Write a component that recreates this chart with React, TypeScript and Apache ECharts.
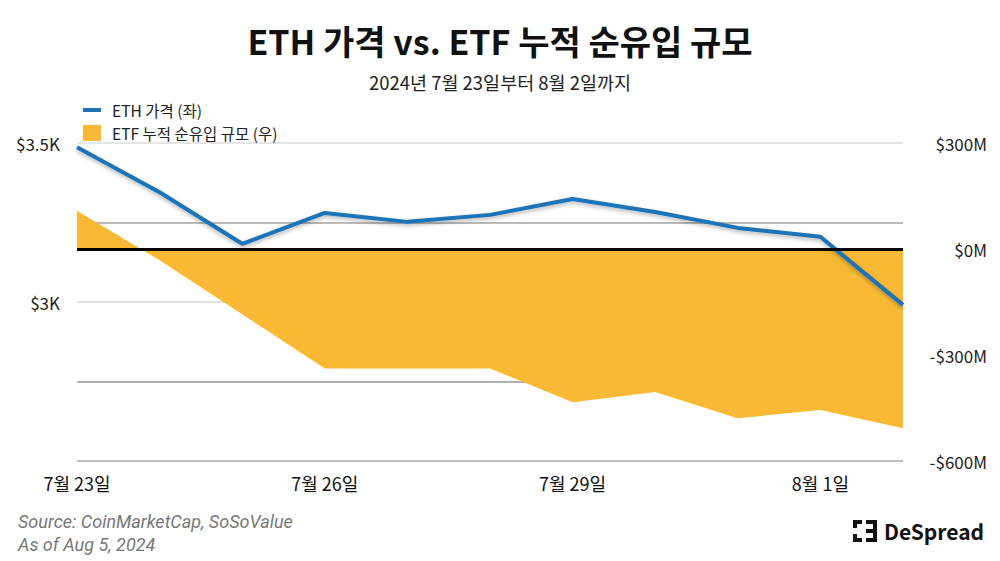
import React, { useEffect, useRef } from "react";
import * as echarts from "echarts";

const categories = [
  "7월 23일", "7월 24일", "7월 25일", "7월 26일", "7월 27일", "7월 28일",
  "7월 29일", "7월 30일", "7월 31일", "8월 1일", "8월 2일",
];
const ethPrice = [3487, 3345, 3183, 3280, 3252, 3274, 3324, 3283, 3233, 3205, 2991];
const etfCumFlow = [108, -32, -185, -338, -338, -338, -434, -405, -479, -456, -507];
const leftTicks: Record<number, string> = { 3000: "$3K", 3500: "$3.5K" };

const FONT = "'Noto Sans CJK KR', 'Noto Sans', sans-serif";
const BLUE = "#1b73b7";
const ORANGE = "#F9B934";

export default function App() {
  const ref = useRef<HTMLDivElement>(null);
  useEffect(() => {
    if (!ref.current) return;
    const chart = echarts.init(ref.current, null, { renderer: "svg" });
    chart.setOption({
      animation: false,
      backgroundColor: "#ffffff",
      textStyle: { fontFamily: FONT },
      title: [
        {
          text: "ETH 가격 vs. ETF 누적 순유입 규모",
          left: "center",
          top: 18,
          textStyle: { fontSize: 34, fontWeight: "bold", color: "#111", fontFamily: FONT },
        },
        {
          text: "2024년 7월 23일부터 8월 2일까지",
          left: "center",
          top: 68,
          textStyle: { fontSize: 18.5, fontWeight: "normal", color: "#222", fontFamily: FONT },
        },
      ],
      legend: {
        orient: "vertical",
        left: 78,
        top: 97,
        itemGap: 7,
        itemWidth: 18,
        itemHeight: 16,
        textStyle: { fontSize: 15.5, color: "#222", fontFamily: FONT, padding: [0, 0, 0, 6], lineHeight: 16 },
        data: [
          { name: "ETH 가격 (좌)", icon: "path://M0,0H18V4H0Z", itemStyle: { color: BLUE } },
          { name: "ETF 누적 순유입 규모 (우)", icon: "rect", itemStyle: { color: ORANGE } },
        ],
      },
      grid: { left: 77, right: 97, top: 143, bottom: 100, containLabel: false },
      xAxis: {
        type: "category",
        data: categories,
        boundaryGap: false,
        axisLine: { show: false },
        axisTick: { show: false },
        axisLabel: { interval: 2, fontSize: 18, color: "#111", margin: 13, fontFamily: FONT },
      },
      yAxis: [
        {
          type: "value",
          min: 2500,
          max: 3500,
          interval: 250,
          position: "left",
          axisLine: { show: false },
          axisTick: { show: false },
          axisLabel: {
            fontSize: 17,
            color: "#222",
            margin: 17,
            fontFamily: FONT,
            formatter: (v: number) => leftTicks[v] ?? "",
          },
          splitLine: {
            show: true,
            lineStyle: { color: ["#a8a8a8", "#999999", "#d6d6d6", "#a3a3a3", "#dddddd"], width: 1.5 },
          },
        },
        {
          type: "value",
          min: -600,
          max: 300,
          interval: 300,
          position: "right",
          axisLine: { show: false },
          axisTick: { show: false },
          splitLine: { show: false },
          axisLabel: {
            fontSize: 17,
            color: "#222",
            margin: 84,
            align: "right",
            fontFamily: FONT,
            formatter: (v: number) => (v < 0 ? "-$" + Math.abs(v) + "M" : "$" + v + "M"),
          },
        },
      ],
      series: [
        {
          name: "ETF 누적 순유입 규모 (우)",
          type: "line",
          yAxisIndex: 1,
          data: etfCumFlow,
          symbol: "none",
          color: ORANGE,
          lineStyle: { width: 0, color: ORANGE },
          areaStyle: { color: ORANGE, opacity: 1, origin: 0 },
          z: 2,
          markLine: {
            silent: true,
            symbol: "none",
            label: { show: false },
            lineStyle: { color: "#000", width: 3, type: "solid" },
            data: [{ yAxis: 0 }],
          },
        },
        {
          name: "ETH 가격 (좌)",
          type: "line",
          yAxisIndex: 0,
          data: ethPrice,
          symbol: "none",
          color: BLUE,
          lineStyle: {
            color: BLUE,
            width: 4,
            shadowColor: "rgba(0,0,0,0.3)",
            shadowBlur: 4,
            shadowOffsetY: 2,
          },
          z: 4,
        },
      ],
      graphic: [
        {
          type: "text",
          left: 18,
          top: 512,
          style: {
            text: "Source: CoinMarketCap, SoSoValue",
            fontSize: 18,
            fontStyle: "italic",
            fill: "#777",
            fontFamily: "Roboto, 'Noto Sans', sans-serif",
          },
        },
        {
          type: "text",
          left: 18,
          top: 535,
          style: {
            text: "As of Aug 5, 2024",
            fontSize: 18,
            fontStyle: "italic",
            fill: "#777",
            fontFamily: "Roboto, 'Noto Sans', sans-serif",
          },
        },
        {
          type: "group",
          left: 853,
          top: 520,
          children: [
            { type: "rect", shape: { x: 0, y: 0, width: 9, height: 4 }, style: { fill: "#111" } },
            { type: "rect", shape: { x: 0, y: 0, width: 4, height: 8 }, style: { fill: "#111" } },
            { type: "rect", shape: { x: 0, y: 18, width: 9, height: 4 }, style: { fill: "#111" } },
            { type: "rect", shape: { x: 0, y: 14, width: 4, height: 8 }, style: { fill: "#111" } },
            { type: "rect", shape: { x: 20, y: 0, width: 4, height: 22 }, style: { fill: "#111" } },
            { type: "rect", shape: { x: 13, y: 0, width: 11, height: 4 }, style: { fill: "#111" } },
            { type: "rect", shape: { x: 13, y: 9, width: 11, height: 4 }, style: { fill: "#111" } },
            { type: "rect", shape: { x: 13, y: 18, width: 11, height: 4 }, style: { fill: "#111" } },
            {
              type: "text",
              x: 31,
              y: 11,
              style: {
                text: "DeSpread",
                fontSize: 21,
                fontWeight: "bold",
                fill: "#111",
                fontFamily: FONT,
                verticalAlign: "middle",
              },
            },
          ],
        },
      ],
    });
    return () => chart.dispose();
  }, []);
  return (
    <div
      ref={ref}
      style={{ position: "fixed", left: 0, top: 0, width: 1000, height: 561, background: "#fff" }}
    />
  );
}
